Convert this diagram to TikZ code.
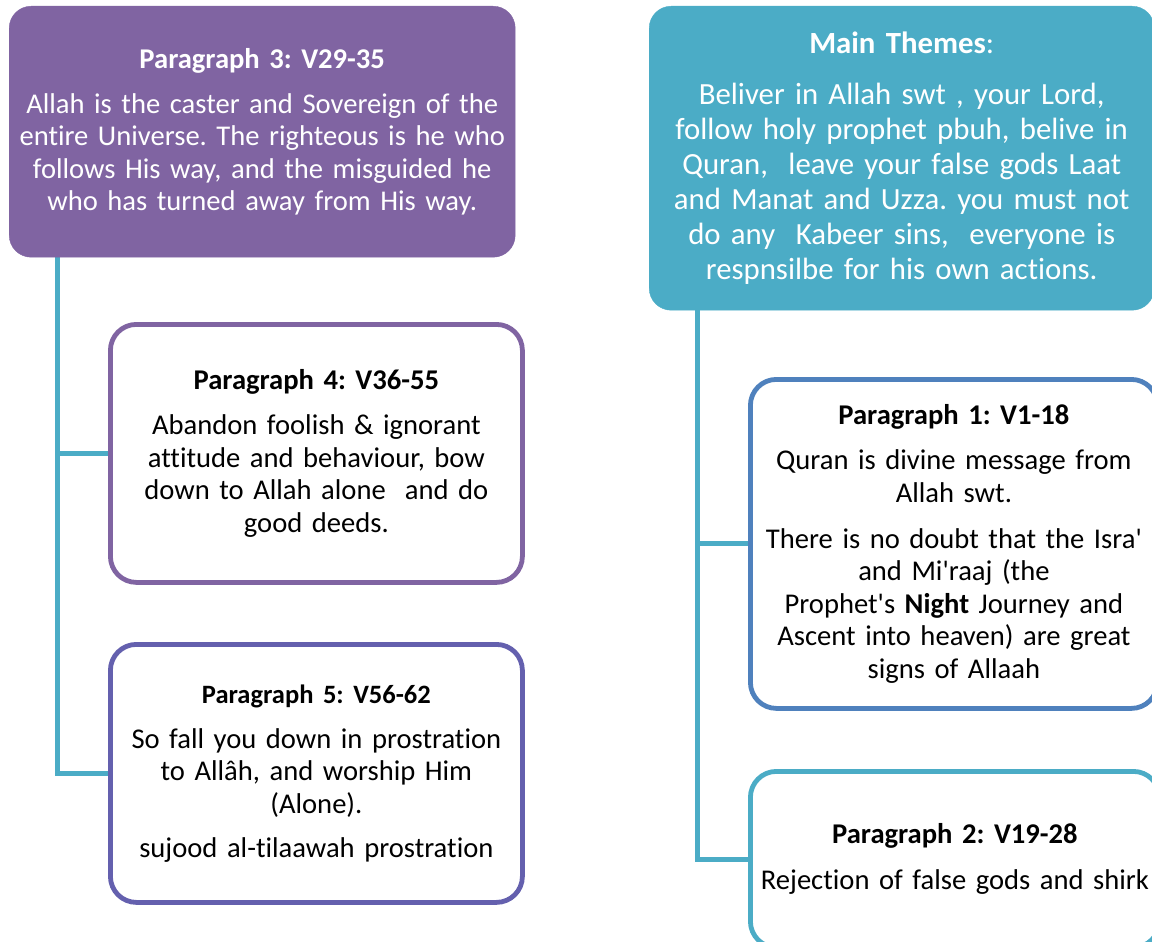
\documentclass[tikz,border=0pt]{standalone}
\usepackage{fontspec}
\setmainfont{Carlito}[Ligatures={NoCommon}]
\usetikzlibrary{positioning,backgrounds}

\definecolor{themepurple}{RGB}{128,100,162}
\definecolor{themeteal}{RGB}{75,172,198}
\definecolor{themeblue}{RGB}{79,129,189}
\definecolor{themeindigo}{RGB}{100,96,174}

\newcommand{\partitle}[1]{{\bfseries #1}}
\frenchspacing

\begin{document}
\begin{tikzpicture}[x=1pt,y=-1pt,
    every node/.style={align=center, anchor=north west, inner sep=0pt,
      font=\fontsize{28.6}{32.5}\selectfont},
    filledbox/.style={fill=#1, draw=#1, text=white, rounded corners=22pt},
    linebox/.style={fill=white, draw=#1, line width=4.8pt, rounded corners=26pt},
    branch/.style={themeteal, line width=5pt}]

  \useasboundingbox (0,0) rectangle (1152,942);

  % left column
  \node[filledbox=themepurple, minimum width=506pt, minimum height=251pt,
    text width=500pt] (para3) at (9,6)
    {\partitle{Paragraph 3: V29-35}\\[12.5pt]
     Allah is the caster and Sovereign of the\\
     entire Universe. The righteous is he who\\
     follows His way, and the misguided he\\
     who has turned away from His way.};

  \node[linebox=themepurple, minimum width=412pt, minimum height=258pt,
    text width=400pt] (para4) at (108,322)
    {\partitle{Paragraph 4: V36-55}\\[12.5pt]
     Abandon foolish \& ignorant\\
     attitude and behaviour, bow\\
     down to Allah alone~ and do\\
     good deeds.};

  \node[linebox=themeindigo, minimum width=412pt, minimum height=258pt,
    text width=400pt] (para5) at (108,642)
    {{\bfseries\fontsize{26.5}{30}\selectfont Paragraph 5: V56-62}\\[12pt]
     So fall you down in prostration\\
     to Allâh, and worship Him\\
     (Alone).\\[11.5pt]
     sujood al-tilaawah prostration};

  % right column
  \node[filledbox=themeteal, minimum width=505pt, minimum height=304pt,
    text width=495pt, font=\fontsize{30.8}{35}\selectfont] (themes) at (649,6)
    {\partitle{Main Themes}:\\[16pt]
     Beliver in Allah swt , your Lord,\\
     follow holy prophet pbuh, belive in\\
     Quran,~ leave your false gods Laat\\
     and Manat and Uzza. you must not\\
     do any~ Kabeer sins,~ everyone is\\
     respnsilbe for his own actions.};

  \node[linebox=themeblue, minimum width=407pt, minimum height=329pt,
    text width=400pt] (para1) at (748,377)
    {\partitle{Paragraph 1: V1-18}\\[12.5pt]
     Quran is divine message from\\
     Allah swt.\\[13.5pt]
     There is no doubt that the Isra\textquotesingle\\
     and Mi\textquotesingle raaj (the\\
     Prophet\textquotesingle s \textbf{Night} Journey and\\
     Ascent into heaven) are great\\
     signs of Allaah};

  \node[linebox=themeteal, minimum width=409pt, minimum height=176pt,
    text width=400pt] (para2) at (748,769)
    {\partitle{Paragraph 2: V19-28}\\[13.5pt]
     Rejection of false gods and shirk};

  % connectors
  \coordinate (lefttrunk) at ([xshift=48pt]para3.south west);
  \coordinate (righttrunk) at ([xshift=48pt]themes.south west);
  \begin{scope}[on background layer]
    \draw[branch] (lefttrunk) |- (para5.west);
    \draw[branch] (lefttrunk |- para4.west) -- (para4.west);
    \draw[branch] (righttrunk) |- (para2.west);
    \draw[branch] (righttrunk |- para1.west) -- (para1.west);
  \end{scope}
\end{tikzpicture}
\end{document}
